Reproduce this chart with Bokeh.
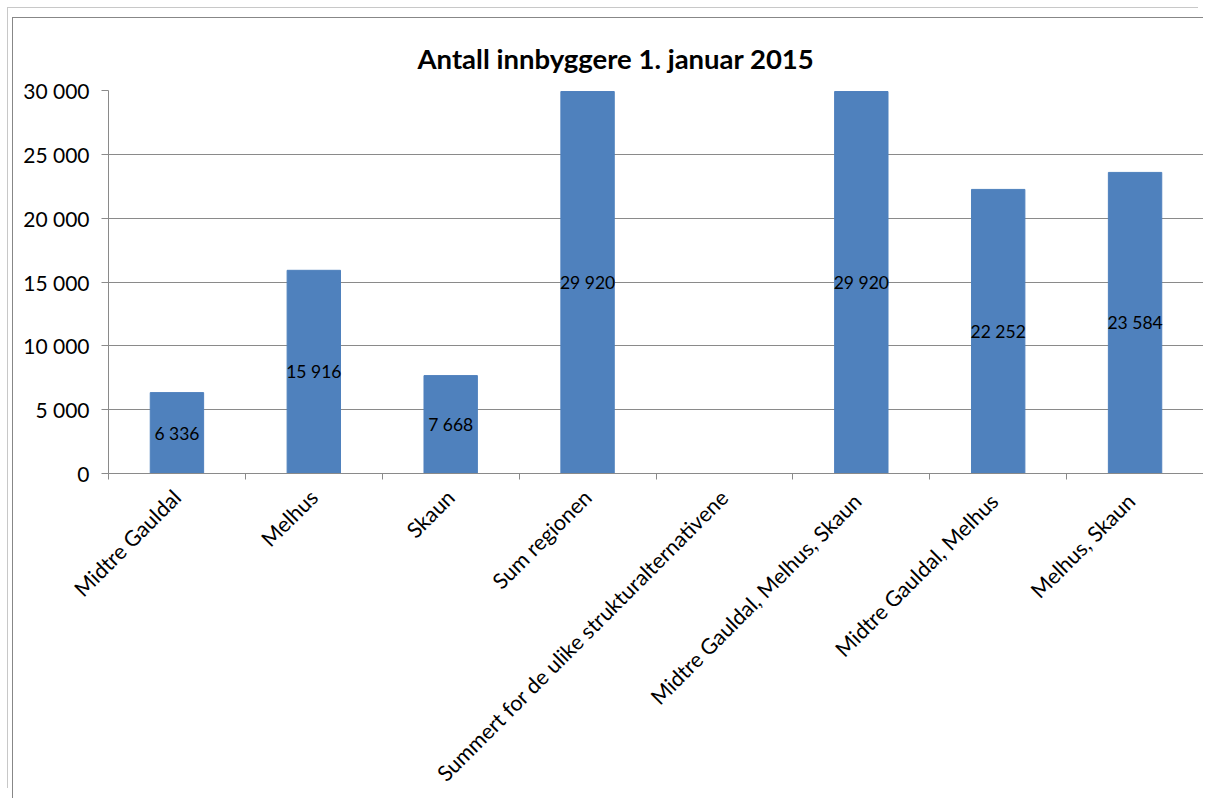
from bokeh.plotting import figure
from bokeh.models import Range1d, FixedTicker, ColumnDataSource
from bokeh.embed import file_html
from bokeh.resources import INLINE
from bokeh.core.properties import value

categories = ["Midtre Gauldal", "Melhus", "Skaun", "Sum regionen",
              "Summert for de ulike strukturalternativene",
              "Midtre Gauldal,  Melhus, Skaun", "Midtre Gauldal,  Melhus", "Melhus,  Skaun"]
values = [6336, 15916, 7668, 29920, None, 29920, 22252, 23584]
y_ticks = [0, 5000, 10000, 15000, 20000, 25000, 30000]
title = "Antall innbyggere 1. januar 2015"

def fmt(v):
    return f"{v:,}".replace(",", " ")

FONT = "Lato"
BAR = "#4F81BD"
GRID = "#8a8a8a"

xs = [i + 0.5 for i in range(len(categories))]
bx = [x for x, v in zip(xs, values) if v is not None]
bv = [v for v in values if v is not None]
src = ColumnDataSource(dict(x=bx, top=bv, mid=[v / 2 for v in bv], lab=[fmt(v) for v in bv]))

p = figure(width=1191, height=781, output_backend="svg", toolbar_location=None,
           x_range=Range1d(0, len(categories)), y_range=Range1d(0, 30000),
           min_border_left=95, min_border_right=1, min_border_top=72, min_border_bottom=326)
p.styles = {"margin-left": "12px", "margin-top": "17px",
            "border-left": "1px solid #878787", "border-top": "1px solid #878787",
            "box-shadow": "-4px -9px 0 0 white, -5px -10px 0 0 #c8c8c8"}
p.outline_line_color = None
p.background_fill_color = "white"

p.title.text = title
p.title.align = "left"
p.title.offset = 309
p.title.text_font = FONT
p.title.text_font_size = "27.5px"
p.title.text_font_style = "bold"
p.title.text_color = "black"
p.title.standoff = 32

p.vbar(x="x", top="top", width=0.39, bottom=0, source=src, fill_color=BAR, line_color=BAR)
p.text(x="x", y="mid", text="lab", source=src, text_align="center", text_baseline="middle",
       text_font=value(FONT), text_font_size="17.5px", text_color="black")

# x axis
p.xaxis.ticker = FixedTicker(ticks=xs, minor_ticks=list(range(len(categories) + 1)))
p.xaxis.major_label_overrides = {x: c for x, c in zip(xs, categories)}
p.xaxis.major_label_orientation = 0.785398
p.xaxis.major_tick_line_color = None
p.xaxis.minor_tick_line_color = GRID
p.xaxis.minor_tick_out = 6
p.xaxis.minor_tick_in = 0
p.xaxis.axis_line_color = GRID
p.xaxis.major_label_text_font = FONT
p.xaxis.major_label_text_font_size = "21.5px"
p.xaxis.major_label_text_color = "black"
p.xaxis.major_label_standoff = 14
p.xgrid.grid_line_color = None

# y axis
p.yaxis.ticker = FixedTicker(ticks=y_ticks, minor_ticks=[])
p.yaxis.major_label_overrides = {t: fmt(t) for t in y_ticks}
p.yaxis.major_tick_out = 7
p.yaxis.major_tick_in = 0
p.yaxis.major_tick_line_color = GRID
p.yaxis.axis_line_color = GRID
p.yaxis.major_label_text_font = FONT
p.yaxis.major_label_text_font_size = "21px"
p.yaxis.major_label_text_color = "black"
p.yaxis.major_label_standoff = 12
p.ygrid.grid_line_color = GRID
p.ygrid.grid_line_width = 1

open("out.html", "w").write(file_html(p, INLINE))
